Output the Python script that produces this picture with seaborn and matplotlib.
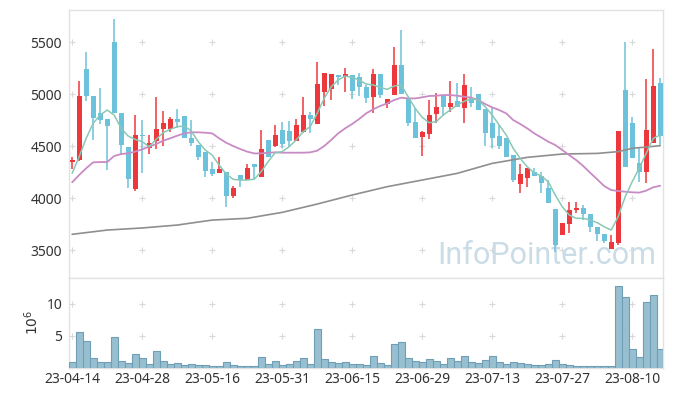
import numpy as np
import pandas as pd
import matplotlib
matplotlib.use("Agg")
import matplotlib.pyplot as plt
import seaborn as sns

# ---------------------------------------------------------------------------
# data (prices in won, volume in millions)
# ---------------------------------------------------------------------------
tick_pos = [0, 10, 20, 30, 40, 50, 60, 70, 80]
tick_labels = ['23-04-14', '23-04-28', '23-05-16', '23-05-31', '23-06-15',
               '23-06-29', '23-07-13', '23-07-27', '23-08-10']

opens = [4350, 4365, 5240, 4980, 4817, 4760, 5500, 4814, 4494, 4087,
         4606, 4484, 4548, 4663, 4663, 4760, 4788, 4574, 4506, 4442,
         4279, 4243, 4247, 4022, 4221, 4173, 4327, 4205, 4558, 4503,
         4654, 4644, 4548, 4632, 4798, 4712, 5022, 5048, 5180, 5166,
         5183, 5166, 5064, 4974, 5192, 4904, 4990, 5279, 4949, 4731,
         4590, 4615, 4808, 4981, 4872, 4933, 4862, 4958, 4997, 4856,
         4718, 4596, 4574, 4413, 4135, 4190, 4253, 4212, 4093, 3891,
         3644, 3750, 3885, 3901, 3846, 3724, 3654, 3507, 3571, 5038,
         4718, 4333, 4253, 4532, 5103]
highs = [4397, 5125, 5401, 4981, 5054, 4760, 5718, 4814, 4494, 4798,
         4750, 4606, 4968, 4837, 4782, 4856, 4788, 4750, 4506, 4442,
         4346, 4397, 4247, 4118, 4221, 4324, 4327, 4654, 4558, 4702,
         4734, 4740, 4760, 4974, 4830, 5305, 5199, 5192, 5180, 5247,
         5183, 5199, 5087, 5237, 5192, 4952, 5449, 5615, 4949, 4862,
         4640, 4942, 5013, 4981, 5125, 5109, 5192, 5064, 4997, 4856,
         4862, 4702, 4574, 4413, 4327, 4286, 4286, 4253, 4173, 3891,
         3757, 3964, 3964, 3933, 3846, 3724, 3654, 3644, 4644, 5497,
         4782, 4494, 5144, 5430, 5151]
lows = [4280, 4360, 4933, 4558, 4708, 4269, 4814, 4413, 4093, 4071,
        4243, 4423, 4468, 4503, 4638, 4670, 4574, 4500, 4365, 4199,
        4212, 4243, 3917, 3997, 4103, 4173, 4183, 4205, 4397, 4494,
        4484, 4494, 4548, 4622, 4622, 4712, 4885, 4942, 5087, 5022,
        4949, 4981, 4917, 4814, 4962, 4869, 4990, 5000, 4692, 4580,
        4404, 4564, 4718, 4788, 4830, 4872, 4718, 4878, 4846, 4500,
        4478, 4468, 4397, 4157, 4045, 4103, 4212, 4045, 3949, 3484,
        3644, 3661, 3859, 3788, 3676, 3590, 3571, 3507, 3548, 4301,
        4382, 4157, 4148, 4532, 4510]
closes = [4365, 4980, 4980, 4772, 4750, 4692, 4814, 4510, 4183, 4606,
          4600, 4526, 4663, 4718, 4763, 4731, 4574, 4532, 4397, 4263,
          4231, 4279, 4022, 4093, 4173, 4286, 4295, 4471, 4397, 4606,
          4516, 4548, 4702, 4798, 4763, 5096, 5199, 5192, 5163, 5192,
          5032, 5070, 4965, 5192, 4990, 4952, 5279, 5000, 4724, 4580,
          4635, 4798, 4872, 4872, 4910, 4872, 5087, 4910, 4846, 4622,
          4574, 4500, 4397, 4173, 4231, 4286, 4212, 4148, 3949, 3548,
          3757, 3885, 3901, 3846, 3724, 3651, 3590, 3574, 4644, 4301,
          4382, 4247, 4654, 5077, 4596]

ma5 = [4238, 4397, 4574, 4718, 4798, 4846, 4798, 4670, 4596, 4564,
       4542, 4494, 4564, 4628, 4660, 4686, 4692, 4647, 4542, 4462,
       4413, 4317, 4231, 4180, 4173, 4173, 4180, 4253, 4350, 4436,
       4446, 4494, 4558, 4638, 4686, 4814, 4958, 5070, 5135, 5173,
       5160, 5135, 5096, 5087, 5064, 5045, 5077, 5087, 4974, 4862,
       4776, 4724, 4734, 4798, 4846, 4894, 4930, 4955, 4942, 4878,
       4798, 4702, 4606, 4478, 4382, 4301, 4243, 4212, 4157, 4029,
       3917, 3837, 3805, 3805, 3788, 3763, 3724, 3692, 3821, 4013,
       4157, 4286, 4429, 4574, 4606]
ma20 = [4151, 4221, 4286, 4343, 4346, 4346, 4404, 4423, 4430, 4446,
        4468, 4494, 4519, 4551, 4574, 4599, 4622, 4632, 4632, 4628,
        4622, 4574, 4532, 4500, 4471, 4446, 4429, 4429, 4436, 4439,
        4436, 4436, 4436, 4436, 4439, 4455, 4500, 4558, 4622, 4670,
        4712, 4760, 4814, 4853, 4885, 4910, 4942, 4965, 4958, 4958,
        4968, 4981, 4984, 4990, 4990, 4984, 4974, 4965, 4942, 4904,
        4872, 4846, 4814, 4750, 4712, 4670, 4622, 4583, 4542, 4510,
        4462, 4413, 4365, 4308, 4243, 4180, 4115, 4077, 4067, 4061,
        4055, 4052, 4071, 4103, 4118]
ma60_idx = [0, 5, 10, 15, 20, 25, 30, 35, 40, 45, 50, 55, 60, 65, 70, 75, 78, 80, 84]
ma60 = [3651, 3692, 3712, 3740, 3788, 3805, 3862, 3942, 4029, 4109,
        4173, 4237, 4333, 4391, 4423, 4429, 4446, 4478, 4503]

volume = [0.82, 5.55, 4.18, 1.45, 0.82, 0.82, 4.76, 0.98, 0.66, 2.08,
          1.45, 0.50, 2.55, 0.98, 0.50, 0.66, 0.34, 0.50, 0.34, 0.34,
          0.18, 0.18, 0.82, 0.34, 0.18, 0.18, 0.18, 1.60, 0.50, 0.98,
          0.34, 0.50, 0.98, 1.45, 0.50, 6.00, 1.30, 0.82, 0.66, 0.82,
          0.50, 0.50, 0.34, 1.77, 0.66, 0.34, 3.66, 3.97, 1.45, 0.98,
          0.82, 1.30, 0.98, 0.50, 1.45, 0.98, 1.77, 0.82, 0.66, 1.13,
          1.77, 0.82, 0.50, 0.82, 0.66, 0.50, 0.34, 0.34, 0.50, 1.13,
          0.50, 0.34, 0.18, 0.18, 0.18, 0.18, 0.18, 0.18, 12.80, 11.07,
          2.87, 1.60, 10.28, 11.39, 2.87]

df = pd.DataFrame({'open': opens, 'high': highs, 'low': lows, 'close': closes,
                   'ma5': ma5, 'ma20': ma20, 'volume': volume})
df['idx'] = np.arange(len(df))

# =============================================================================
# figure
# =============================================================================
sns.set_theme(style="white")
plt.rcParams['font.family'] = ['Noto Sans', 'DejaVu Sans']

RED = '#ec383c'
BLUE = '#6cc2da'
TEXT = '#333333'
SPINE = '#e2e2e2'
CROSS = '#d9d9d9'

fig = plt.figure(figsize=(6.73, 3.96), dpi=100)
ax = fig.add_axes([69 / 673, 1 - 278 / 396, 594 / 673, 268 / 396])
axv = fig.add_axes([69 / 673, 1 - 367.5 / 396, 594 / 673, 89.5 / 396], sharex=ax)

# candles: wick + body, red up / blue down
up = df['close'] >= df['open']
colors = np.where(up, RED, BLUE)
body_lo = df[['open', 'close']].min(axis=1)
body_h = (df['close'] - df['open']).abs().clip(lower=8)
ax.vlines(df['idx'], df['low'], df['high'], colors=colors, lw=1.1, zorder=3)
ax.bar(df['idx'], body_h, bottom=body_lo, width=0.72, color=colors, lw=0, zorder=4)

# moving averages
sns.lineplot(x=ma60_idx, y=ma60, ax=ax, color='#8f8f8f', lw=1.2, zorder=5)
sns.lineplot(x=df['idx'], y=df['ma20'], ax=ax, color='#c98bc4', lw=1.3, zorder=5)
sns.lineplot(x=df['idx'], y=df['ma5'], ax=ax, color='#8ac8b6', lw=1.1, zorder=5)

ax.set_ylim(3231, 5808)
ax.set_xlim(-0.45, 84.4)
yt = [3500, 4000, 4500, 5000, 5500]
ax.set_yticks(yt)
ax.set_yticklabels([str(v) for v in yt])
gx, gy = np.meshgrid(tick_pos, yt)
ax.scatter(gx.ravel(), gy.ravel(), marker='+', s=16, color=CROSS, lw=0.8, zorder=1)
ax.set_xlabel('')
ax.set_ylabel('')
ax.tick_params(axis='x', labelbottom=False, length=0)
ax.tick_params(axis='y', length=0, pad=5, labelsize=10, labelcolor=TEXT)

# watermark
ax.text(0.62, 0.052, 'InfoPointer.com', transform=ax.transAxes,
        fontsize=22, family='Roboto', color='#cadce6', va='baseline',
        ha='left', zorder=2)

# volume
sns.barplot(x=df['idx'], y=df['volume'], ax=axv, native_scale=True, width=1,
            color='#98bfcf', saturation=1, edgecolor='#6f9fb6', linewidth=0.8,
            zorder=3)
axv.set_ylim(0, 14.07)
axv.set_yticks([5, 10])
axv.set_yticklabels(['5', '10'])
gx, gy = np.meshgrid(tick_pos, [5, 10])
axv.scatter(gx.ravel(), gy.ravel(), marker='+', s=16, color=CROSS, lw=0.8, zorder=1)
axv.set_xticks(tick_pos)
axv.set_xticklabels(tick_labels)
axv.set_xlim(-0.45, 84.4)
axv.set_xlabel('')
axv.set_ylabel(r'$10^6$', fontsize=10, color=TEXT, labelpad=3)
axv.tick_params(axis='both', length=0, labelsize=10, labelcolor=TEXT)
axv.tick_params(axis='x', pad=3)
axv.tick_params(axis='y', pad=5)

for a in (ax, axv):
    for s in a.spines.values():
        s.set_color(SPINE)
        s.set_linewidth(1)

fig.savefig('out.png', dpi=100)
